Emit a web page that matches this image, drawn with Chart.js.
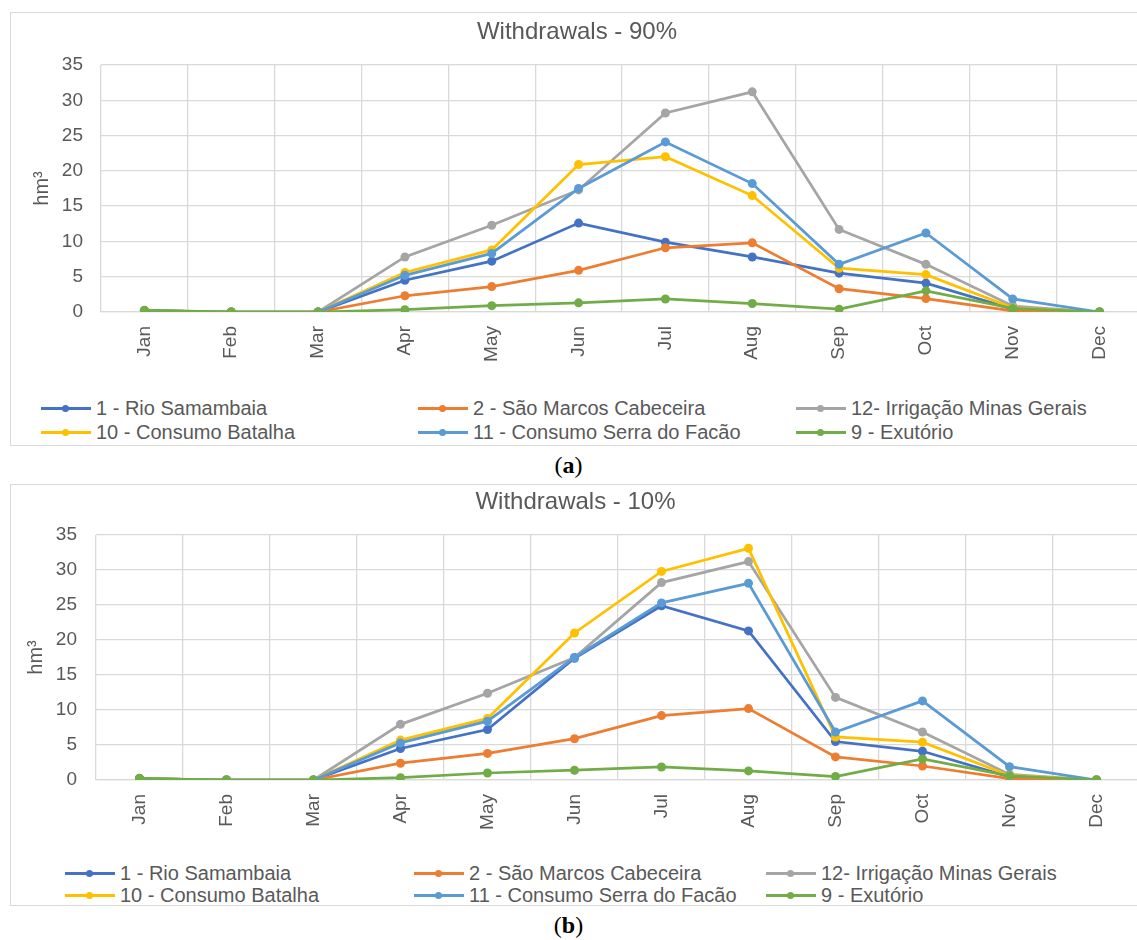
<!DOCTYPE html>
<html>
<head>
<meta charset="utf-8">
<script src="https://cdn.jsdelivr.net/npm/chart.js@4.4.1/dist/chart.umd.min.js"></script>
<style>
  html, body { margin: 0; padding: 0; background: #fff; overflow: hidden; width: 1137px; height: 940px; }
  .frame { position: absolute; left: 10px; width: 1180px; border: 1px solid #d9d9d9; background: #fff; }
  #frameA { top: 12px; height: 432px; }
  #frameB { top: 484px; height: 420px; }
  .frame canvas { position: absolute; left: 0; top: 0; }
  .legend-item { position: absolute; height: 22px; display: flex; align-items: center;
    font: 20px "Liberation Sans", Arial, sans-serif; color: #595959; white-space: nowrap; }
  .swatch { position: relative; width: 50px; height: 3px; margin-right: 5px; }
  .swatch .dot { position: absolute; left: 21px; top: -2px; width: 7px; height: 7px; border-radius: 50%; }
  .caption { position: absolute; left: 0; width: 1137px; text-align: center; line-height: 26px;
    font: 24px "Liberation Serif", "DejaVu Serif", serif; color: #000; }
</style>
</head>
<body>
<div class="frame" id="frameA"><canvas id="chartA" width="1170" height="359"></canvas></div>
<div class="caption" style="top:452px">(<b>a</b>)</div>
<div class="frame" id="frameB"><canvas id="chartB" width="1170" height="355"></canvas></div>
<div class="caption" style="top:912px">(<b>b</b>)</div>

<script>
// categorias
const months = ['Jan', 'Feb', 'Mar', 'Apr', 'May', 'Jun', 'Jul', 'Aug', 'Sep', 'Oct', 'Nov', 'Dec'];
const seriesNames = ['1 - Rio Samambaia', '2 - São Marcos Cabeceira', '12- Irrigação Minas Gerais',
                     '10 - Consumo Batalha', '11 - Consumo Serra do Facão', '9 - Exutório'];
const seriesColors = ['#4472C4', '#ED7D31', '#A5A5A5', '#FFC000', '#5B9BD5', '#70AD47'];
const yTicks = [0, 5, 10, 15, 20, 25, 30, 35];

// Withdrawals - 90%
const rioSamambaia90 = [0.2, 0, 0, 4.5, 7.2, 12.6, 9.9, 7.8, 5.5, 4.1, 0.4, 0];
const saoMarcos90    = [0.2, 0, 0, 2.3, 3.6, 5.9, 9.1, 9.8, 3.3, 1.9, 0.15, 0];
const irrigacao90    = [0.2, 0, 0, 7.8, 12.3, 17.3, 28.2, 31.2, 11.7, 6.75, 0.85, 0];
const batalha90      = [0.2, 0, 0, 5.6, 8.8, 20.9, 22.0, 16.5, 6.2, 5.3, 0.6, 0];
const serraFacao90   = [0.2, 0, 0, 5.2, 8.3, 17.5, 24.1, 18.2, 6.75, 11.2, 1.85, 0];
const exutorio90     = [0.25, 0, 0, 0.33, 0.9, 1.3, 1.85, 1.2, 0.4, 3.0, 0.5, 0];

// Withdrawals - 10%
const rioSamambaia10 = [0.2, 0, 0, 4.5, 7.2, 17.4, 24.9, 21.3, 5.5, 4.1, 0.45, 0];
const saoMarcos10    = [0.2, 0, 0, 2.4, 3.8, 5.9, 9.2, 10.2, 3.3, 2.0, 0.2, 0];
const irrigacao10    = [0.2, 0, 0, 7.95, 12.4, 17.5, 28.2, 31.2, 11.8, 6.85, 0.8, 0];
const batalha10      = [0.2, 0, 0, 5.7, 8.8, 21.0, 29.8, 33.1, 6.15, 5.4, 0.65, 0];
const serraFacao10   = [0.2, 0, 0, 5.3, 8.4, 17.5, 25.3, 28.1, 6.85, 11.3, 1.9, 0];
const exutorio10     = [0.25, 0, 0, 0.33, 1.0, 1.4, 1.86, 1.3, 0.5, 3.0, 0.6, 0];

const FONT = '"Liberation Sans", Arial, sans-serif';
const TEXT = '#595959';
const GRID = '#d9d9d9';

function buildChart(canvasId, title, series, geo) {
    const datasets = series.map((values, i) => ({
        label: seriesNames[i],
        data: values,
        borderColor: seriesColors[i],
        backgroundColor: seriesColors[i],
        borderWidth: 2.75,
        pointRadius: 4.5,
        pointBorderWidth: 0,
        tension: 0,
        order: series.length - i   // a última série fica por cima, como no Excel
    }));

    return new Chart(document.getElementById(canvasId), {
        type: 'line',
        data: { labels: months, datasets: datasets },
        options: {
            responsive: false,
            animation: false,
            layout: { padding: { left: 0, right: geo.padRight, top: 0, bottom: 0 } },
            plugins: {
                legend: { display: false },
                tooltip: { enabled: false },
                title: {
                    display: true,
                    text: title,
                    color: TEXT,
                    font: { family: FONT, size: 24, weight: 'normal' },
                    padding: { top: geo.titleTop, bottom: geo.titleBottom }
                }
            },
            scales: {
                x: {
                    offset: true,
                    grid: { offset: true, color: GRID, lineWidth: 1.3, drawTicks: false },
                    border: { color: GRID, width: 1.3 },
                    ticks: {
                        color: TEXT,
                        font: { family: FONT, size: 19 },
                        minRotation: 90,
                        maxRotation: 90,
                        padding: 14,
                        autoSkip: false
                    },
                    afterFit: (scale) => { scale.height = geo.xHeight; }
                },
                y: {
                    min: yTicks[0],
                    max: yTicks[yTicks.length - 1],
                    afterBuildTicks: (scale) => { scale.ticks = yTicks.map(v => ({ value: v })); },
                    grid: { color: GRID, lineWidth: 1.3, drawTicks: false },
                    border: { display: false },
                    ticks: { color: TEXT, font: { family: FONT, size: 19 }, padding: geo.yTickPad },
                    title: {
                        display: true,
                        text: 'hm³',
                        color: TEXT,
                        font: { family: FONT, size: 20 },
                        padding: { top: geo.yTitlePad, bottom: 0 }
                    },
                    afterFit: (scale) => { scale.width = geo.yWidth; }
                }
            }
        }
    });
}

function buildLegend(frameId, colLefts, rowTops) {
    const frame = document.getElementById(frameId);
    seriesNames.forEach((name, i) => {
        const item = document.createElement('div');
        item.className = 'legend-item';
        item.style.left = colLefts[i % 3] + 'px';
        item.style.top = rowTops[Math.floor(i / 3)] + 'px';
        const sw = document.createElement('span');
        sw.className = 'swatch';
        sw.style.background = seriesColors[i];
        const dot = document.createElement('span');
        dot.className = 'dot';
        dot.style.background = seriesColors[i];
        sw.appendChild(dot);
        item.appendChild(sw);
        item.appendChild(document.createTextNode(name));
        frame.appendChild(item);
    });
}

buildChart('chartA', 'Withdrawals - 90%',
    [rioSamambaia90, saoMarcos90, irrigacao90, batalha90, serraFacao90, exutorio90],
    { padRight: 38, titleTop: 4.6, titleBottom: 18.6, xHeight: 60, yWidth: 90, yTickPad: 18, yTitlePad: 19 });
buildLegend('frameA', [30, 407, 785], [384, 408]);

buildChart('chartB', 'Withdrawals - 10%',
    [rioSamambaia10, saoMarcos10, irrigacao10, batalha10, serraFacao10, exutorio10],
    { padRight: 41, titleTop: 3, titleBottom: 18.2, xHeight: 60, yWidth: 85, yTickPad: 19, yTitlePad: 13 });
buildLegend('frameB', [54, 403, 755], [377, 399]);
</script>
</body>
</html>
